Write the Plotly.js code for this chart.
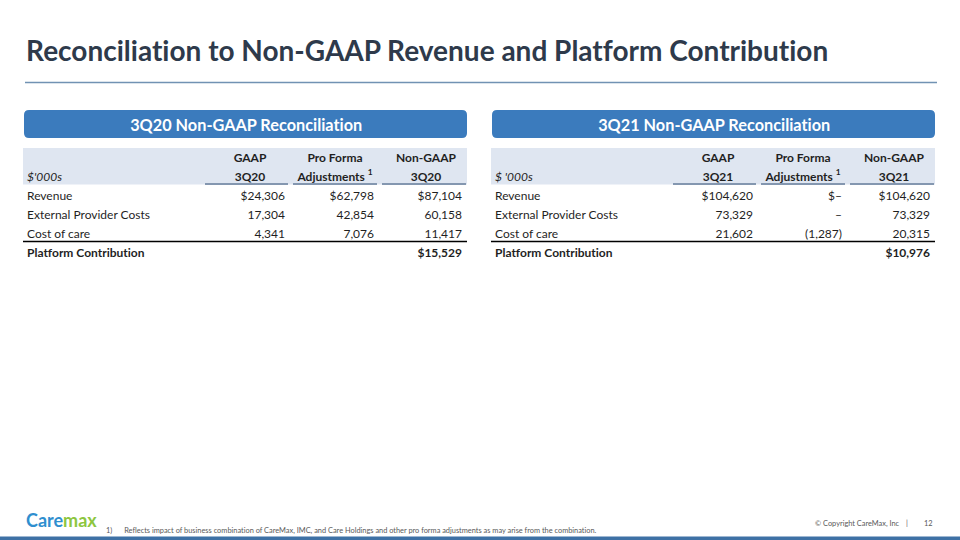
<!DOCTYPE html>
<html>
<head>
<meta charset="utf-8">
<script src="https://cdn.plot.ly/plotly-3.0.1.min.js"></script>
<style>
html,body{margin:0;padding:0;background:#fff;}
#chart{width:960px;height:540px;}
#chart text{font-variant-ligatures:none;font-feature-settings:"liga" 0;}
</style>
</head>
<body>
<div id="chart"></div>
<script>
// ---------- data ----------
const rowLabels = ["Revenue", "External Provider Costs", "Cost of care", "Platform Contribution"];
const rowDollar = [true, false, false, true];
const rowBold = [false, false, false, true];

const colTop = ["GAAP", "Pro Forma", "Non-GAAP"];
const colSub20 = ["3Q20", "Adjustments <sup>1</sup>", "3Q20"];
const colSub21 = ["3Q21", "Adjustments <sup>1</sup>", "3Q21"];
const unitLabel20 = "$'000s";
const unitLabel21 = "$ '000s";

const gaap3Q20 = [24306, 17304, 4341, null];
const proForma3Q20 = [62798, 42854, 7076, null];
const nonGaap3Q20 = [87104, 60158, 11417, 15529];

const gaap3Q21 = [104620, 73329, 21602, null];
const proForma3Q21 = [0, 0, -1287, null];
const nonGaap3Q21 = [104620, 73329, 20315, 10976];

const panelTitles = ["3Q20 Non-GAAP Reconciliation", "3Q21 Non-GAAP Reconciliation"];
const pageTitle = "Reconciliation to Non-GAAP Revenue and Platform Contribution";
const footnote = "Reflects impact of business combination of CareMax, IMC, and Care Holdings and other pro forma adjustments as may arise from the combination.";

// ---------- layout constants ----------
const W = 960, H = 540;
const px = x => x / W;
const py = y => 1 - y / H;
const FONT = "Lato, 'Open Sans', sans-serif";
const HEAD_FILL = "#dfe6f1";
const BLUE = "#3b7bbd";
const TEXT = "#1f1f1f";
const FS = 12;

const PANEL_W = 447;
const panelLeft = [20, 488];
const LABEL_X = 7;                    // label column start (panel units)
const NUM_RIGHT = [265, 354, 442];    // right edge of number columns
const HEAD_CENTER = [230, 315, 406];  // centre of header text
const UNDERLINE = [[185, 268], [273, 357], [362, 446]];
const ROW_TOP = 149, ROW_H = 19;
const rowKeys = ["hdrTop", "hdrSub"].concat(rowLabels);

function fmt(v, dollar, bold) {
  if (v === null || v === undefined) return "";
  let s;
  if (v === 0) s = "–";
  else if (v < 0) s = "(" + Math.abs(v).toLocaleString("en-US") + ")";
  else s = v.toLocaleString("en-US");
  if (dollar) s = "$" + s;
  return bold ? "<b>" + s + "</b>" : s;
}

function buildPanel(idx, unitLabel, colSub, cols) {
  const xs = [], ys = [], ts = [], pos = [];
  const push = (x, y, t, p) => { xs.push(x); ys.push(y); ts.push(t); pos.push(p); };
  // header
  push(LABEL_X, "hdrSub", "<i>" + unitLabel + "</i>", "middle right");
  colTop.forEach((h, c) => push(HEAD_CENTER[c], "hdrTop", "<b>" + h + "</b>", "middle center"));
  colSub.forEach((h, c) => push(HEAD_CENTER[c], "hdrSub", "<b>" + h + "</b>", "middle center"));
  // body
  rowLabels.forEach((r, i) => {
    push(LABEL_X, r, rowBold[i] ? "<b>" + r + "</b>" : r, "middle right");
    cols.forEach((col, c) => {
      const s = fmt(col[i], rowDollar[i], rowBold[i]);
      if (s) push(NUM_RIGHT[c], r, s, "middle left");
    });
  });
  return {
    type: "scatter", mode: "text",
    x: xs, y: ys, text: ts, textposition: pos,
    textfont: {family: FONT, size: FS, color: TEXT},
    xaxis: idx === 0 ? "x" : "x2", yaxis: "y",
    hoverinfo: "skip", cliponaxis: false, showlegend: false
  };
}

const traces = [
  buildPanel(0, unitLabel20, colSub20, [gaap3Q20, proForma3Q20, nonGaap3Q20]),
  buildPanel(1, unitLabel21, colSub21, [gaap3Q21, proForma3Q21, nonGaap3Q21])
];

function roundRect(x0, y0, x1, y1, r, color) {
  const rx = r / W, ry = r / H;
  const X0 = px(x0), X1 = px(x1), Y0 = py(y0), Y1 = py(y1);
  const path = `M ${X0 + rx},${Y0} L ${X1 - rx},${Y0} Q ${X1},${Y0} ${X1},${Y0 - ry} ` +
    `L ${X1},${Y1 + ry} Q ${X1},${Y1} ${X1 - rx},${Y1} L ${X0 + rx},${Y1} Q ${X0},${Y1} ${X0},${Y1 + ry} ` +
    `L ${X0},${Y0 - ry} Q ${X0},${Y0} ${X0 + rx},${Y0} Z`;
  return {type: "path", xref: "paper", yref: "paper", path, fillcolor: color, line: {width: 0}, layer: "below"};
}
function hline(x0, x1, y, color, w) {
  return {type: "line", xref: "paper", yref: "paper", x0: px(x0), x1: px(x1), y0: py(y), y1: py(y),
    line: {color, width: w}, layer: "above"};
}
function rect(x0, x1, y0, y1, color) {
  return {type: "rect", xref: "paper", yref: "paper", x0: px(x0), x1: px(x1), y0: py(y1), y1: py(y0),
    fillcolor: color, line: {width: 0}, layer: "below"};
}

const shapes = [hline(25, 937, 82.5, "#7192b3", 1.5)];
panelLeft.forEach(L => {
  shapes.push(roundRect(L + 4, 110, L + 447, 138, 5, BLUE));
  shapes.push(rect(L + 3, L + 447, 148, 184.5, HEAD_FILL));
  UNDERLINE.forEach(u => shapes.push(hline(L + u[0], L + u[1], 184, "#8497b0", 2)));
  shapes.push(hline(L + 3, L + 447, 241.5, "#000000", 1.3));
});
shapes.push({type: "rect", xref: "paper", yref: "paper", x0: 0, x1: 1, y0: 0, y1: py(536.5),
  fillcolor: "#3e71a5", line: {width: 0}});

const annotations = [
  {text: "<b>" + pageTitle + "</b>", x: px(24), y: py(50), xanchor: "left", yanchor: "middle",
    font: {family: FONT, size: 28, color: "#2e3a4b"}},
  {text: "<b>" + panelTitles[0] + "</b>", x: px(panelLeft[0] + 225.5), y: py(124.5), xanchor: "center", yanchor: "middle",
    font: {family: FONT, size: 16.3, color: "#ffffff"}},
  {text: "<b>" + panelTitles[1] + "</b>", x: px(panelLeft[1] + 225.5), y: py(124.5), xanchor: "center", yanchor: "middle",
    font: {family: FONT, size: 16.3, color: "#ffffff"}},
  {text: "<b>Care<span style='color:#8dc63f'>max</span></b>", x: px(24), y: py(520), xanchor: "left", yanchor: "middle",
    font: {family: FONT, size: 18, color: "#2f8fcf"}},
  {text: "1)", x: px(104), y: py(530), xanchor: "left", yanchor: "middle",
    font: {family: FONT, size: 7.4, color: "#595959"}},
  {text: footnote, x: px(122), y: py(530), xanchor: "left", yanchor: "middle",
    font: {family: FONT, size: 7.4, color: "#595959"}},
  {text: "© Copyright CareMax, Inc", x: px(902), y: py(523), xanchor: "right", yanchor: "middle",
    font: {family: FONT, size: 7.4, color: "#595959"}},
  {text: "|", x: px(907), y: py(523), xanchor: "center", yanchor: "middle",
    font: {family: FONT, size: 7.4, color: "#595959"}},
  {text: "12", x: px(935), y: py(523), xanchor: "right", yanchor: "middle",
    font: {family: FONT, size: 7.4, color: "#595959"}}
].map(a => Object.assign({xref: "paper", yref: "paper", showarrow: false}, a));

const hiddenX = (L) => ({domain: [px(L), px(L + PANEL_W)], range: [0, PANEL_W], visible: false,
  fixedrange: true, showgrid: false, zeroline: false, anchor: "y"});

const layout = {
  width: W, height: H,
  margin: {l: 0, r: 0, t: 0, b: 0},
  paper_bgcolor: "#ffffff",
  plot_bgcolor: "rgba(0,0,0,0)",
  showlegend: false,
  xaxis: hiddenX(panelLeft[0]),
  xaxis2: hiddenX(panelLeft[1]),
  yaxis: {type: "category", categoryarray: rowKeys, categoryorder: "array",
    range: [rowKeys.length - 0.5, -0.5],
    domain: [py(ROW_TOP + ROW_H * rowKeys.length), py(ROW_TOP)],
    visible: false, fixedrange: true, showgrid: false, zeroline: false},
  shapes, annotations
};

Plotly.newPlot("chart", traces, layout, {staticPlot: true, displayModeBar: false});
</script>
</body>
</html>
